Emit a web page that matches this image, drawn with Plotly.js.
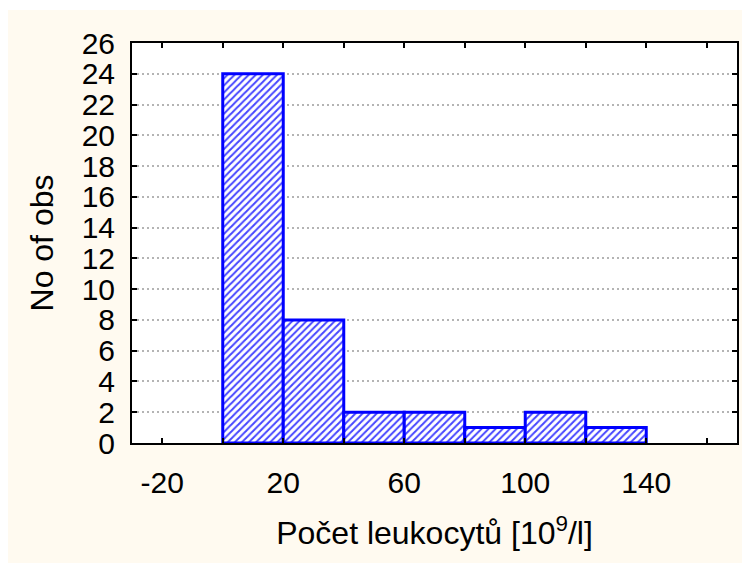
<!DOCTYPE html>
<html>
<head>
<meta charset="utf-8">
<script src="https://cdn.plot.ly/plotly-3.0.1.min.js"></script>
<style>
  html, body { margin: 0; padding: 0; background: #ffffff; }
  #chart { width: 742px; height: 563px; }
</style>
</head>
<body>
<div id="chart"></div>
<script>
// Data
const binEdges = [0, 20, 40, 60, 80, 100, 120, 140];
const counts = [24, 8, 2, 2, 1, 2, 1];
const xTickVals = [-20, 20, 60, 100, 140];
const xTickText = ['-20', '20', '60', '100', '140'];
const yTickVals = [0, 2, 4, 6, 8, 10, 12, 14, 16, 18, 20, 22, 24, 26];
const xTitle = 'Počet leukocytů [10<sup>9</sup>/l]';
const yTitle = 'No of obs';

const centers = counts.map((_, i) => (binEdges[i] + binEdges[i + 1]) / 2);
const widths = counts.map((_, i) => binEdges[i + 1] - binEdges[i]);

const FONT = 'Liberation Sans, Arial, Helvetica, sans-serif';
const cream = '#fffaf0';

const trace = {
  type: 'bar',
  x: centers,
  y: counts,
  width: widths,
  marker: {
    color: '#ffffff',
    line: { color: '#0000ff', width: 3 },
    pattern: { shape: '/', fgcolor: '#4646ff', bgcolor: '#ffffff', size: 5, solidity: 0.4 }
  },
  hoverinfo: 'x+y'
};

const layout = {
  width: 742,
  height: 563,
  margin: { l: 132, r: 5, t: 43, b: 120, pad: 0 },
  paper_bgcolor: cream,
  plot_bgcolor: '#ffffff',
  showlegend: false,
  bargap: 0,
  font: { family: FONT, color: '#000000', size: 30 },
  xaxis: {
    range: [-30, 170],
    tickmode: 'array',
    tickvals: xTickVals,
    ticktext: xTickText,
    ticks: 'inside',
    ticklen: 5,
    tickwidth: 2,
    tickcolor: '#000000',
    ticklabelstandoff: 12,
    minor: { tickmode: 'linear', tick0: 0, dtick: 20, ticks: 'inside', ticklen: 5, tickwidth: 2, tickcolor: '#000000', showgrid: false },
    showline: true,
    linecolor: '#000000',
    linewidth: 2,
    mirror: 'ticks',
    showgrid: false,
    zeroline: false,
    tickfont: { family: FONT, size: 30, color: '#000000' },
    title: { text: xTitle, font: { family: FONT, size: 32, color: '#000000' }, standoff: 24 },
    automargin: false
  },
  yaxis: {
    range: [0, 26],
    tickmode: 'array',
    tickvals: yTickVals,
    ticks: 'inside',
    ticklen: 5,
    tickwidth: 2,
    tickcolor: '#000000',
    ticklabelstandoff: 9,
    showline: true,
    linecolor: '#000000',
    linewidth: 2,
    mirror: 'ticks',
    showgrid: true,
    gridcolor: '#b4b4b4',
    gridwidth: 2,
    griddash: '2px,3px',
    zeroline: false,
    tickfont: { family: FONT, size: 30, color: '#000000' },
    title: { text: yTitle, font: { family: FONT, size: 32, color: '#000000' }, standoff: 18 },
    automargin: false
  },
  shapes: [
    { type: 'rect', xref: 'paper', yref: 'paper', layer: 'above',
      x0: -0.2182, x1: 1.01, y0: (443 - 10) / 400, y1: 443 / 400 + 0.01,
      fillcolor: '#ffffff', line: { width: 0 } },
    { type: 'rect', xref: 'paper', yref: 'paper', layer: 'above',
      x0: -0.2182, x1: (8 - 132) / 605, y0: -0.31, y1: 443 / 400 + 0.01,
      fillcolor: '#ffffff', line: { width: 0 } }
  ]
};

Plotly.newPlot('chart', [trace], layout, { displayModeBar: false, staticPlot: true });
</script>
</body>
</html>
